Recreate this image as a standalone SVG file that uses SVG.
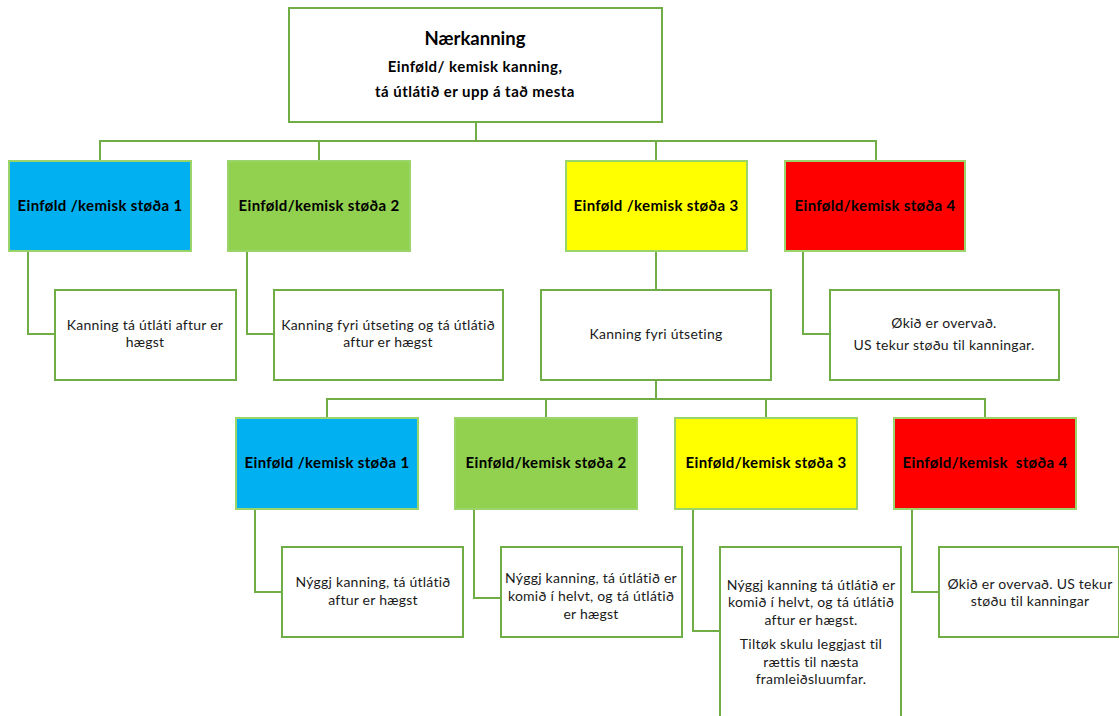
<svg xmlns="http://www.w3.org/2000/svg" width="1119" height="716" viewBox="0 0 1119 716">
<style>
.wbox{fill:#fff;stroke:#70AD47;stroke-width:2}
.cbox{stroke:#9BD46A;stroke-width:2}
.blue{fill:#00B0F0}.green{fill:#92D050}.yellow{fill:#FFFF00}.red{fill:#FF0000}
.conn{fill:none;stroke:#70AD47;stroke-width:2}
text{font-family:Lato,"Liberation Sans",sans-serif;text-anchor:middle}
.h{font-weight:bold;font-size:15px;letter-spacing:0.35px;fill:#000}
.s{font-weight:bold;font-size:15px;letter-spacing:0.45px;fill:#000}
.t{font-weight:bold;font-size:18.5px;fill:#000}
.b{font-size:14px;letter-spacing:0.25px;fill:#1a1a1a}
</style>
<rect width="1119" height="716" fill="#fff"/>
<g id="connectors">
<path class="conn" d="M476 122V141M100 161V141H876V161M319 141V161M656 141V161"/>
<path class="conn" d="M28 251V334H55M247 251V334H274M656 251V290M803 251V334H830"/>
<path class="conn" d="M656 380V399M327 418V399H985V418M546 399V418M766 399V418"/>
<path class="conn" d="M255 509V592H282M474 509V598H501M693 509V631H720M912 509V592H939"/>
</g>
<g id="root">
<rect class="wbox" x="289" y="8" width="373" height="114"/>
<text class="t" x="475" y="45">Nærkanning</text>
<text class="s" x="475" y="72">Einføld/ kemisk kanning,</text>
<text class="s" x="475" y="97">tá útlátið er upp á tað mesta</text>
</g>
<g id="s1">
<rect class="cbox blue" x="9" y="161" width="182" height="90"/>
<text class="h" x="100" y="211">Einføld /kemisk støða 1</text>
</g>
<g id="s2">
<rect class="cbox green" x="228" y="161" width="182" height="90"/>
<text class="h" x="319" y="211">Einføld/kemisk støða 2</text>
</g>
<g id="s3">
<rect class="cbox yellow" x="566" y="161" width="181" height="90"/>
<text class="h" x="656" y="211">Einføld /kemisk støða 3</text>
</g>
<g id="s4">
<rect class="cbox red" x="785" y="161" width="180" height="90"/>
<text class="h" x="875" y="211">Einføld/kemisk støða 4</text>
</g>
<g id="s1d">
<rect class="wbox" x="55" y="290" width="181" height="90"/>
<text class="b" x="145" y="330">Kanning tá útláti aftur er</text>
<text class="b" x="145" y="347">hægst</text>
</g>
<g id="s2d">
<rect class="wbox" x="274" y="290" width="229" height="90"/>
<text class="b" x="388" y="330">Kanning fyri útseting og tá útlátið</text>
<text class="b" x="388" y="347">aftur er hægst</text>
</g>
<g id="s3d">
<rect class="wbox" x="541" y="290" width="230" height="90"/>
<text class="b" x="656" y="339">Kanning fyri útseting</text>
</g>
<g id="s4d">
<rect class="wbox" x="830" y="290" width="229" height="90"/>
<text class="b" x="944" y="328">Økið er overvað.</text>
<text class="b" x="944" y="350">US tekur støðu til kanningar.</text>
</g>
<g id="r1">
<rect class="cbox blue" x="236" y="418" width="182" height="91"/>
<text class="h" x="327" y="468">Einføld /kemisk støða 1</text>
</g>
<g id="r2">
<rect class="cbox green" x="455" y="418" width="182" height="91"/>
<text class="h" x="546" y="468">Einføld/kemisk støða 2</text>
</g>
<g id="r3">
<rect class="cbox yellow" x="675" y="418" width="182" height="91"/>
<text class="h" x="766" y="468">Einføld/kemisk støða 3</text>
</g>
<g id="r4">
<rect class="cbox red" x="894" y="418" width="182" height="91"/>
<text class="h" x="985" y="468" xml:space="preserve">Einføld/kemisk  støða 4</text>
</g>
<g id="r1d">
<rect class="wbox" x="282" y="547" width="181" height="90"/>
<text class="b" x="373" y="587">Nýggj kanning, tá útlátið</text>
<text class="b" x="373" y="605">aftur er hægst</text>
</g>
<g id="r2d">
<rect class="wbox" x="501" y="547" width="181" height="90"/>
<text class="b" x="591" y="583">Nýggj kanning, tá útlátið er</text>
<text class="b" x="591" y="601">komið í helvt, og tá útlátið</text>
<text class="b" x="591" y="619">er hægst</text>
</g>
<g id="r3d">
<rect class="wbox" x="720" y="547" width="181" height="175"/>
<text class="b" x="811" y="590">Nýggj kanning tá útlátið er</text>
<text class="b" x="811" y="607">komið í helvt, og tá útlátið</text>
<text class="b" x="811" y="625">aftur er hægst.</text>
<text class="b" x="811" y="649">Tiltøk skulu leggjast til</text>
<text class="b" x="811" y="667">rættis til næsta</text>
<text class="b" x="811" y="684">framleiðsluumfar.</text>
</g>
<g id="r4d">
<rect class="wbox" x="939" y="547" width="180" height="90"/>
<text class="b" x="1030" y="589">Økið er overvað. US tekur</text>
<text class="b" x="1030" y="606">støðu til kanningar</text>
</g>
</svg>
